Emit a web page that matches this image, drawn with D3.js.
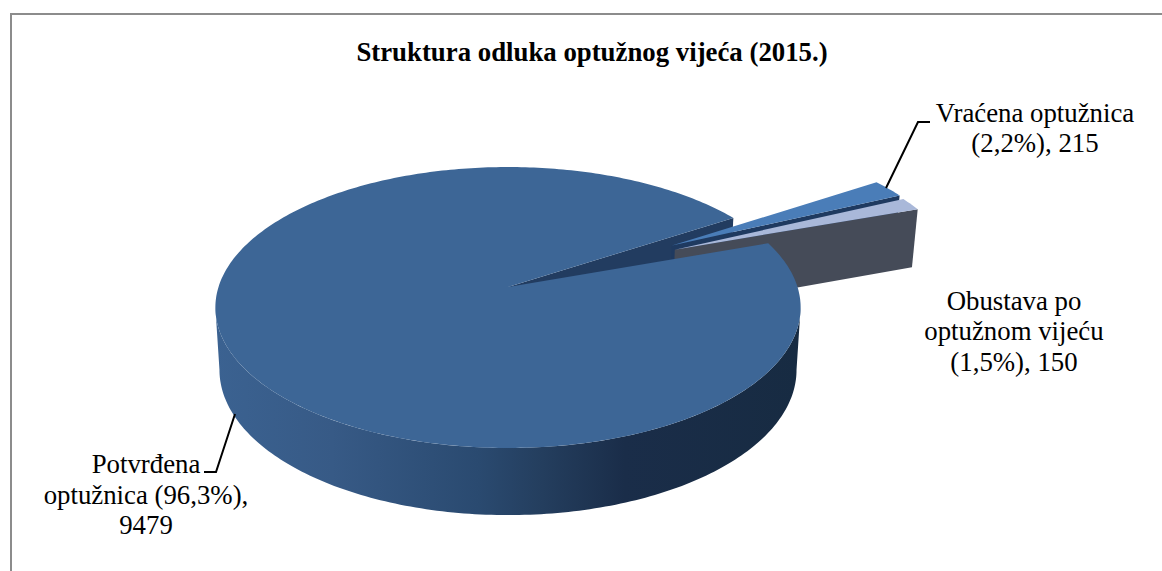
<!DOCTYPE html>
<html>
<head>
<meta charset="utf-8">
<script src="https://cdn.jsdelivr.net/npm/d3@7"></script>
<style>
  html, body { margin: 0; padding: 0; background: #fff; }
  svg { display: block; }
  text { font-family: "Liberation Serif", serif; fill: #000; }
</style>
</head>
<body>
<div id="chart"></div>
<script>
var categories = ["Potvrđena optužnica", "Vraćena optužnica", "Obustava po optužnom vijeću"];
var values = [9479, 215, 150];
var percents = ["96,3%", "2,2%", "1,5%"];
var titleText = "Struktura odluka optužnog vijeća (2015.)";

var width = 1162, height = 571;

var svg = d3.select("#chart").append("svg")
  .attr("width", width)
  .attr("height", height);

// frame, only top and left are in the shot
svg.append("path")
  .attr("d", "M11,571V14H1162")
  .attr("fill", "none")
  .attr("stroke", "#8c8c8c")
  .attr("stroke-width", 2);

svg.append("text")
  .attr("x", 592)
  .attr("y", 61)
  .attr("text-anchor", "middle")
  .attr("font-weight", "bold")
  .attr("font-size", 26.8)
  .text(titleText);

// Fake 3d: pie plane seen in perspective, bottom plane slid down
var cx = 508, cy = 287, radiusX = 289.5, radiusY = 137.5, persp = 0.146;

function project(X, Y, low) {
  var w = 1 + persp * Y;
  var sx = cx + radiusX * X / w;
  var sy = cy - radiusY * Y / w;
  if (low) {
    sx = cx + (sx - cx) * 0.986;
    sy = sy + 61.5 - 5.6 * Y;
  }
  return [sx, sy];
}

var line = d3.line();

var pie = d3.pie()
  .sort(null)
  .startAngle(70.5 * Math.PI / 180)
  .endAngle(430.5 * Math.PI / 180);

var slices = pie(values);

function onCircle(a, shift) {
  return [shift[0] + Math.sin(a), shift[1] + Math.cos(a)];
}

function arcAngles(a0, a1) {
  var n = Math.ceil(Math.abs(a1 - a0) * 60) + 1;
  return d3.range(n + 1).map(function(i) { return a0 + (a1 - a0) * i / n; });
}

function topFace(d, shift) {
  var pts = [project(shift[0], shift[1], false)];
  arcAngles(d.startAngle, d.endAngle).forEach(function(a) {
    var p = onCircle(a, shift);
    pts.push(project(p[0], p[1], false));
  });
  return line(pts) + "Z";
}

// wall along the radius at angle a
function radialWall(a, shift) {
  var p = onCircle(a, shift);
  return line([
    project(shift[0], shift[1], false),
    project(p[0], p[1], false),
    project(p[0], p[1], true),
    project(shift[0], shift[1], true)
  ]) + "Z";
}

// outer rim between two angles
function rim(a0, a1, shift) {
  var angles = arcAngles(a0, a1);
  var upper = angles.map(function(a) {
    var p = onCircle(a, shift);
    return project(p[0], p[1], false);
  });
  var lower = angles.slice().reverse().map(function(a) {
    var p = onCircle(a, shift);
    return project(p[0], p[1], true);
  });
  return line(upper.concat(lower)) + "Z";
}

var defs = svg.append("defs");
var grad = defs.append("linearGradient")
  .attr("id", "rimFill")
  .attr("gradientUnits", "userSpaceOnUse")
  .attr("x1", 215).attr("x2", 800)
  .attr("y1", 0).attr("y2", 0);
[[0, "#3b6291"], [0.2, "#375a86"], [0.45, "#2a4a70"], [0.56, "#243e5e"], [0.7, "#1a2d49"], [1, "#172b42"]]
  .forEach(function(s) {
    grad.append("stop").attr("offset", s[0]).attr("stop-color", s[1]);
  });

var main = slices[0], returned = slices[1], dropped = slices[2];
var noShift = [0, 0];
// how far the two small slices are pulled out
var shiftBlue = [0.592, 0.315];
var shiftGrey = [0.6, 0.283];

// back to front: notch wall of the big slice, the two pulled slices, then big slice
svg.append("path")
  .attr("d", radialWall(main.endAngle, noShift))
  .attr("fill", "#223c60");

svg.append("path")
  .attr("d", radialWall(returned.endAngle, shiftBlue))
  .attr("fill", "#1f3a60");
svg.append("path")
  .attr("d", topFace(returned, shiftBlue))
  .attr("fill", "#4a7db8");

svg.append("path")
  .attr("d", radialWall(dropped.endAngle, shiftGrey))
  .attr("fill", "#454b58");
svg.append("path")
  .attr("d", topFace(dropped, shiftGrey))
  .attr("fill", "#a9b8d9");

// visible rim runs between the two silhouette tangents, round the front
var tangent = Math.asin(persp);
svg.append("path")
  .attr("d", rim(Math.PI / 2 + tangent, 3 * Math.PI / 2 - tangent, noShift))
  .attr("fill", "url(#rimFill)");
svg.append("path")
  .attr("d", topFace(main, noShift))
  .attr("fill", "#3d6696");

// leader lines
var leaders = [
  [[886, 188], [918, 122], [930, 122]],
  [[235, 414], [216, 472], [204, 472]]
];
svg.selectAll("path.leader")
  .data(leaders)
  .enter().append("path")
  .attr("class", "leader")
  .attr("d", line)
  .attr("fill", "none")
  .attr("stroke", "#000")
  .attr("stroke-width", 2);

// labels
var labels = [
  { x: 146, y: [473, 504, 534], lines: ["Potvrđena", "optužnica (" + percents[0] + "),", String(values[0])] },
  { x: 1035, y: [122, 152], lines: ["Vraćena optužnica", "(" + percents[1] + "), " + values[1]] },
  { x: 1014, y: [310, 340, 371], lines: ["Obustava po", "optužnom vijeću", "(" + percents[2] + "), " + values[2]] }
];

labels.forEach(function(l) {
  l.lines.forEach(function(t, i) {
    svg.append("text")
      .attr("x", l.x)
      .attr("y", l.y[i])
      .attr("text-anchor", "middle")
      .attr("font-size", 26.8)
      .text(t);
  });
});
</script>
</body>
</html>
